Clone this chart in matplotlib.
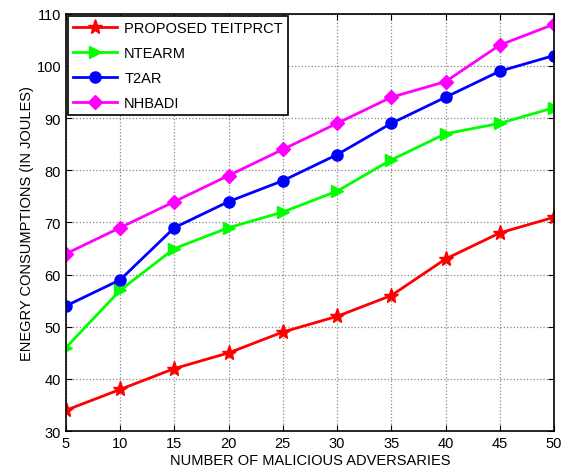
import matplotlib.pyplot as plt

plt.rcParams['font.family'] = ['Liberation Sans', 'DejaVu Sans']

adversaries = [5, 10, 15, 20, 25, 30, 35, 40, 45, 50]
teitprct = [34, 38, 42, 45, 49, 52, 56, 63, 68, 71]
ntearm = [46, 57, 65, 69, 72, 76, 82, 87, 89, 92]
t2ar = [54, 59, 69, 74, 78, 83, 89, 94, 99, 102]
nhbadi = [64, 69, 74, 79, 84, 89, 94, 97, 104, 108]

fig = plt.figure(figsize=(5.63, 4.77), dpi=100)
ax = fig.add_axes([0.117, 0.094, 0.867, 0.875])

ax.plot(adversaries, teitprct, color='red', marker='*', markersize=11, lw=2, label='PROPOSED TEITPRCT')
ax.plot(adversaries, ntearm, color='#00ff00', marker='>', markersize=9, lw=2, label='NTEARM')
ax.plot(adversaries, t2ar, color='blue', marker='o', markersize=8, lw=2, label='T2AR')
ax.plot(adversaries, nhbadi, color='magenta', marker='D', markersize=7, lw=2, label='NHBADI')

ax.set_xlim(5, 50)
ax.set_ylim(30, 110)
ax.set_xticks(adversaries)
ax.set_yticks(range(30, 111, 10))
ax.tick_params(direction='in', top=True, right=True, labelsize=10.5, length=4)
ax.grid(True, linestyle=':', color='#888888', lw=0.9)
for s in ax.spines.values():
    s.set_linewidth(1.2)

ax.set_xlabel('NUMBER OF MALICIOUS ADVERSARIES', fontsize=10.5, labelpad=2)
ax.set_ylabel('ENEGRY CONSUMPTIONS (IN JOULES)', fontsize=10.5, labelpad=2)

leg = ax.legend(loc='upper left', fontsize=10.5, fancybox=False, framealpha=1,
                edgecolor='black', borderaxespad=0.15, handlelength=3.0,
                labelspacing=0.75, borderpad=0.35, handletextpad=0.5)
leg.get_frame().set_linewidth(1.2)

fig.savefig('out.png', dpi=100)
